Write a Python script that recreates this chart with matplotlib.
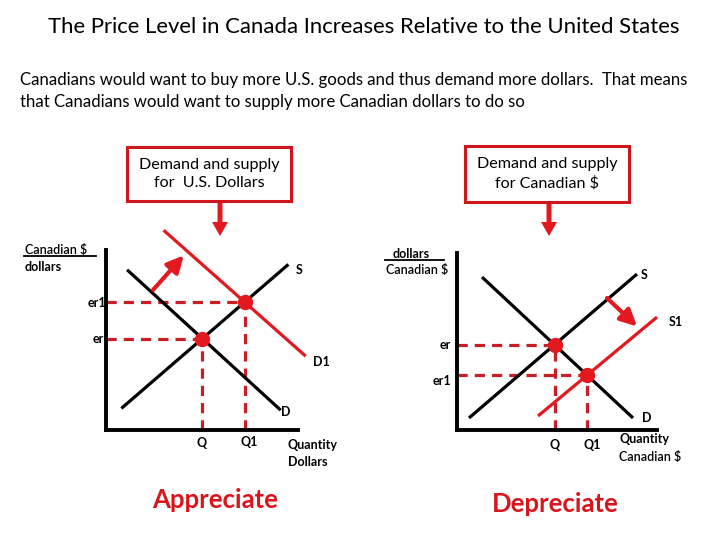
import matplotlib; matplotlib.use('Agg')
import matplotlib.pyplot as plt, numpy as np
from matplotlib.patches import FancyArrow

plt.rcParams.update({'font.family': ['Lato', 'DejaVu Sans'], 'font.size': 9})
RED, DRED, BLACK = '#e3191f', '#c81e25', '#000000'

# left panel: market for U.S. dollars (price = Canadian $ per dollar)
us_supply = [(0.8, 1.2), (9.5, 9.2)]
us_demand = [(1.1, 8.9), (9.1, 1.1)]
us_demand1 = [(3.0, 11.1), (10.4, 4.1)]
us_shift_arrow = [(2.45, 7.78), (4.05, 9.7)]

# right panel: market for Canadian dollars (price = dollars per Canadian $)
ca_supply = [(0.6, 0.68), (9.0, 8.81)]
ca_demand = [(1.25, 8.64), (8.8, 0.68)]
ca_supply1 = [(4.05, 0.79), (10.0, 6.38)]
ca_shift_arrow = [(7.5, 7.46), (9.0, 5.85)]


def intersect(a, b):
    (x1, y1), (x2, y2) = a
    (x3, y3), (x4, y4) = b
    m1 = (y2 - y1) / (x2 - x1)
    m2 = (y4 - y3) / (x4 - x3)
    x = (y3 - y1 + m1 * x1 - m2 * x3) / (m1 - m2)
    return x, y1 + m1 * (x - x1)


def line(ax, seg, color, lw=2.3):
    xs, ys = zip(*seg)
    ax.plot(xs, ys, color=color, lw=lw, solid_capstyle='butt', clip_on=False, zorder=3)


def eq_point(ax, pt):
    x, y = pt
    ax.plot([0, x], [y, y], color=DRED, lw=2.3, ls=(0, (3.2, 2.2)), clip_on=False, zorder=2)
    ax.plot([x, x], [0, y], color=DRED, lw=2.3, ls=(0, (3.2, 2.2)), clip_on=False, zorder=2)
    ax.plot(x, y, 'o', color=RED, ms=10, zorder=5, clip_on=False)


def shift_arrow(ax, seg):
    (x0, y0), (x1, y1) = seg
    ax.annotate('', xy=(x1, y1), xytext=(x0, y0),
                arrowprops=dict(arrowstyle='-|>,head_length=1.1,head_width=0.55',
                                color=RED, lw=3, shrinkA=0, shrinkB=0), zorder=6)


def panel(rect):
    ax = fig.add_axes(rect)
    ax.set_xlim(0, 10); ax.set_ylim(0, 10)
    for s in ['top', 'right']:
        ax.spines[s].set_visible(False)
    for s in ['left', 'bottom']:
        ax.spines[s].set_linewidth(2.8)
    ax.set_xticks([]); ax.set_yticks([])
    ax.patch.set_alpha(0)
    return ax


fig = plt.figure(figsize=(7.2, 5.4), dpi=100)
bg = fig.add_axes([0, 0, 1, 1])
bg.set_xlim(0, 720); bg.set_ylim(540, 0); bg.axis('off')

bg.text(364, 27, 'The Price Level in Canada Increases Relative to the United States',
        ha='center', va='center', fontsize=15.9)
bg.text(20, 80, 'Canadians would want to buy more U.S. goods and thus demand more dollars.  That means',
        ha='left', va='center', fontsize=12.1)
bg.text(20, 102, 'that Canadians would want to supply more Canadian dollars to do so',
        ha='left', va='center', fontsize=12.1)

# callout boxes and big arrows
for cx, txt in [(209, 'Demand and supply\nfor  U.S. Dollars'), (547, 'Demand and supply\nfor Canadian $')]:
    bg.text(cx, 174, txt, ha='center', va='center', fontsize=11.6, linespacing=1.4,
            bbox=dict(boxstyle='square,pad=0.7', fc='white', ec='#d0151c', lw=2.2))
for ax_x in [220, 549]:
    bg.add_patch(FancyArrow(ax_x, 200, 0, 36, width=5, head_width=16, head_length=14,
                            length_includes_head=True, color=RED, lw=0))

# ---- left panel
axl = panel([106 / 720, 110 / 540, 192 / 720, 180 / 540])
line(axl, us_supply, BLACK)
line(axl, us_demand, BLACK)
line(axl, us_demand1, RED)
e0 = intersect(us_supply, us_demand)
e1 = intersect(us_supply, us_demand1)
eq_point(axl, e0)
eq_point(axl, e1)
shift_arrow(axl, us_shift_arrow)

lab = dict(fontsize=9, fontweight='bold', va='center')
bg.text(25, 250, 'Canadian $', ha='left', fontsize=9, fontweight='semibold', va='center')
bg.plot([24, 96], [256, 256], color=BLACK, lw=1.3)
bg.text(25, 267, 'dollars', ha='left', **lab)
bg.text(106, 303, 'er1', ha='right', **lab)
bg.text(104, 339, 'er', ha='right', **lab)
bg.text(299, 270, 'S', ha='center', **lab)
bg.text(286, 412, 'D', ha='center', **lab)
bg.text(321, 362, 'D1', ha='center', **lab)
bg.text(202, 443, 'Q', ha='center', **lab)
bg.text(249, 442, 'Q1', ha='center', **lab)
bg.text(288, 445, 'Quantity', ha='left', **lab)
bg.text(288, 462, 'Dollars', ha='left', **lab)
bg.text(215, 500, 'Appreciate', ha='center', va='center', fontsize=18.5,
        fontweight='bold', color='#d9141b')

# ---- right panel
axr = panel([457 / 720, 110 / 540, 200 / 720, 177 / 540])
line(axr, ca_supply, BLACK)
line(axr, ca_demand, BLACK)
line(axr, ca_supply1, RED)
f0 = intersect(ca_supply, ca_demand)
f1 = intersect(ca_supply1, ca_demand)
eq_point(axr, f0)
eq_point(axr, f1)
shift_arrow(axr, ca_shift_arrow)

bg.text(411, 254, 'dollars', ha='center', **lab)
bg.plot([385, 444], [260, 260], color=BLACK, lw=1.3)
bg.text(417, 270, 'Canadian $', ha='center', fontsize=9, fontweight='semibold', va='center')
bg.text(451, 345, 'er', ha='right', **lab)
bg.text(451, 381, 'er1', ha='right', **lab)
bg.text(644, 275, 'S', ha='center', **lab)
bg.text(676, 322, 'S1', ha='center', **lab)
bg.text(647, 418, 'D', ha='center', **lab)
bg.text(555, 445, 'Q', ha='center', **lab)
bg.text(592, 445, 'Q1', ha='center', **lab)
bg.text(619, 439, 'Quantity', ha='left', **lab)
bg.text(619, 457, 'Canadian $', ha='left', fontsize=9, fontweight='semibold', va='center')
bg.text(555, 504, 'Depreciate', ha='center', va='center', fontsize=18.5,
        fontweight='bold', color='#d9141b')

fig.savefig('out.png', dpi=100)
plt.close(fig)
